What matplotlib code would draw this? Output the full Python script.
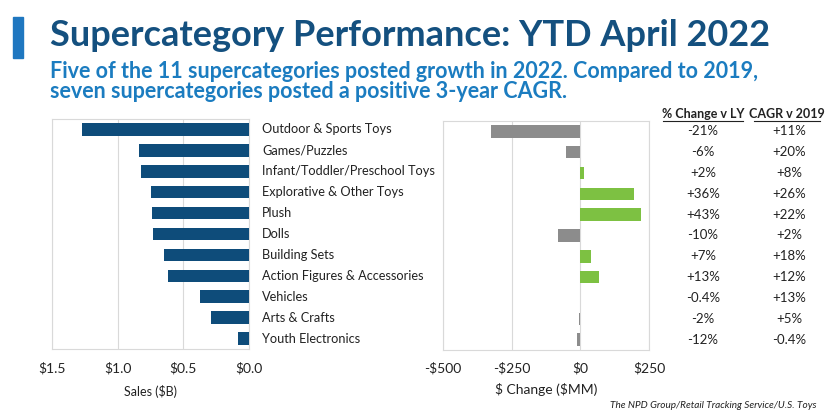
import matplotlib.pyplot as plt
from matplotlib.patches import Rectangle
from matplotlib.transforms import blended_transform_factory

# Data
categories = ['Outdoor & Sports Toys', 'Games/Puzzles', 'Infant/Toddler/Preschool Toys',
              'Explorative & Other Toys', 'Plush', 'Dolls', 'Building Sets',
              'Action Figures & Accessories', 'Vehicles', 'Arts & Crafts', 'Youth Electronics']
sales_b = [1.27, 0.84, 0.82, 0.75, 0.74, 0.73, 0.645, 0.615, 0.37, 0.29, 0.08]
change_mm = [-326, -52, 14, 197, 221, -83, 38, 68, -2, -6, -13]
pct_change_ly = ['-21%', '-6%', '+2%', '+36%', '+43%', '-10%', '+7%', '+13%', '-0.4%', '-2%', '-12%']
cagr_2019 = ['+11%', '+20%', '+8%', '+26%', '+22%', '+2%', '+18%', '+12%', '+13%', '+5%', '-0.4%']

sales_ticks = [1.5, 1.0, 0.5, 0.0]
sales_ticklabels = ['$1.5', '$1.0', '$0.5', '$0.0']
change_ticks = [-500, -250, 0, 250]
change_ticklabels = ['-$500', '-$250', '$0', '$250']

plt.rcParams['font.family'] = ['Lato', 'DejaVu Sans']
plt.rcParams['text.parse_math'] = False

navy = '#0E4C7A'
green = '#7DC142'
gray = '#8C8C8C'
grid_c = '#D9D9D9'
text_c = '#222222'

fig = plt.figure(figsize=(8.27, 4.17), dpi=100)
W, H = 827, 417

def fx(px):
    return px / W

def fy(py):
    return 1 - py / H

# Title block
fig.patches.append(Rectangle((fx(13), fy(58)), fx(10), 41 / H, transform=fig.transFigure,
                             color='#1F77C0', zorder=3))
fig.text(fx(50), fy(46), 'Supercategory Performance: YTD April 2022', fontsize=26,
         fontweight='bold', color='#14507F', va='baseline', ha='left')
fig.text(fx(50), fy(78), 'Five of the 11 supercategories posted growth in 2022. Compared to 2019,',
         fontsize=15.5, fontweight='bold', color='#1B7CC0', va='baseline', ha='left')
fig.text(fx(50), fy(98), 'seven supercategories posted a positive 3-year CAGR.',
         fontsize=15.5, fontweight='bold', color='#1B7CC0', va='baseline', ha='left')

ypos = list(range(len(categories)))

# Left chart: sales
ax1 = fig.add_axes([fx(52), fy(349), 197 / W, 230 / H])
ax1.barh(ypos, sales_b, height=0.6, color=navy, zorder=3)
ax1.set_xlim(1.5, 0)
ax1.set_ylim(len(categories) - 0.5, -0.5)
ax1.set_xticks(sales_ticks)
ax1.set_xticklabels(sales_ticklabels, fontsize=10, color=text_c)
ax1.set_yticks([])
ax1.grid(axis='x', color=grid_c, linewidth=0.8, zorder=0)
ax1.tick_params(axis='x', length=0, pad=9)
for s in ax1.spines.values():
    s.set_color(grid_c)
ax1.set_xlabel('Sales ($B)', fontsize=9, color=text_c, labelpad=8)
for y, name in zip(ypos, categories):
    ax1.annotate(name, xy=(1.0, y), xycoords=('axes fraction', 'data'),
                 xytext=(9.5, 0), textcoords='offset points', ha='left', va='center',
                 fontsize=9.2, color=text_c)

# Right chart: $ change
ax2 = fig.add_axes([fx(443), fy(350), 206 / W, 229 / H])
colors = [green if v > 0 else gray for v in change_mm]
ax2.barh(ypos, change_mm, height=0.6, color=colors, zorder=3)
ax2.set_xlim(-500, 250)
ax2.set_ylim(len(categories) - 0.5, -0.5)
ax2.set_xticks(change_ticks)
ax2.set_xticklabels(change_ticklabels, fontsize=10, color=text_c)
ax2.set_yticks([])
ax2.grid(axis='x', color=grid_c, linewidth=0.8, zorder=0)
ax2.tick_params(axis='x', length=0, pad=9)
for s in ax2.spines.values():
    s.set_color(grid_c)
ax2.set_xlabel('$ Change ($MM)', fontsize=10, color=text_c, labelpad=6)

# Table columns
col1_x = fx(703)
col2_x = fx(789)
row_tr = blended_transform_factory(fig.transFigure, ax2.transData)
for y, a, b in zip(ypos, pct_change_ly, cagr_2019):
    ax2.text(col1_x, y, a, transform=row_tr, ha='center', va='center', fontsize=9.5, color=text_c)
    ax2.text(col2_x, y, b, transform=row_tr, ha='center', va='center', fontsize=9.5, color=text_c)

fig.text(col1_x, fy(114), '% Change v LY', ha='center', va='center', fontsize=9,
         fontweight='bold', color=text_c)
fig.text(fx(787), fy(114), 'CAGR v 2019', ha='center', va='center', fontsize=9,
         fontweight='bold', color=text_c)
for cx, w in [(col1_x, 80), (fx(787), 66)]:
    fig.add_artist(plt.Line2D([cx - fx(w / 2), cx + fx(w / 2)], [fy(120.5), fy(120.5)],
                              transform=fig.transFigure, color=text_c, linewidth=0.8))

fig.text(fx(817), fy(405), 'The NPD Group/Retail Tracking Service/U.S. Toys', ha='right',
         va='center', fontsize=7.2, style='italic', color=text_c)

fig.savefig('out.png', dpi=100, facecolor='white')
